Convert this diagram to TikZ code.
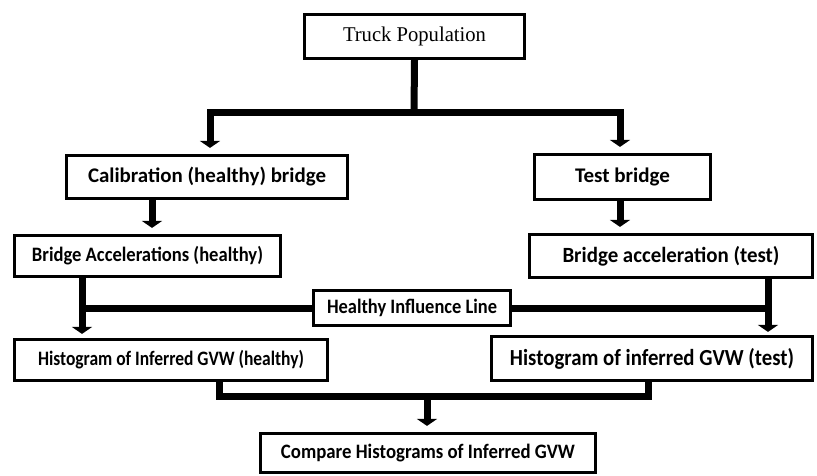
\documentclass[tikz,border=0pt]{standalone}
\usepackage{fontspec}
\usepackage{graphicx}
\setmainfont{Carlito}
\newfontfamily\serifface{Liberation Serif}
\usetikzlibrary{arrows.meta}
\newcommand{\fs}[1]{\fontsize{#1}{#1}\selectfont}
\newcommand{\tw}[2]{\resizebox{#1}{\height}{#2}}
\begin{document}
\begin{tikzpicture}[x=1pt,y=-1pt,
  box/.style={draw, line width=3.2pt, inner sep=0pt, anchor=center, align=center},
  conn/.style={line width=7pt, line join=miter},
  arr/.style={conn, -{Triangle[width=20pt,length=7pt]}}]
\useasboundingbox (0,0) rectangle (817,475);
\fill[white] (0,0) rectangle (817,475);
% boxes
\node[box, minimum width=220pt, minimum height=44pt, font=\serifface\fs{21}] (tp) at (414.5,36.5) {\tw{143pt}{Truck Population}};
\node[box, minimum width=281pt, minimum height=43pt, font=\bfseries\fs{20.8}] (cal) at (207,177) {\tw{238pt}{Calibration (healthy) bridge}};
\node[box, minimum width=176pt, minimum height=45pt, font=\bfseries\fs{20.8}] (test) at (622.5,177) {\tw{95pt}{Test bridge}};
\node[box, minimum width=266pt, minimum height=41pt, font=\bfseries\fs{20.5}] (bah) at (147.5,256) {\tw{231pt}{Bridge Accelerations (healthy)}};
\node[box, minimum width=283pt, minimum height=43pt, font=\bfseries\fs{21.7}] (bat) at (671,256) {\tw{217pt}{Bridge acceleration (test)}};
\node[box, minimum width=197pt, minimum height=35pt, font=\bfseries\fs{20.5}] (hil) at (412,308) {\tw{170pt}{Healthy Influence Line}};
\node[box, minimum width=313pt, minimum height=41pt, font=\bfseries\fs{20.5}] (hh) at (171,360) {\tw{266pt}{Histogram of Inferred GVW (healthy)}};
\node[box, minimum width=321pt, minimum height=44pt, font=\bfseries\fs{23}] (ht) at (652,358.5) {\tw{284pt}{Histogram of inferred GVW (test)}};
\node[box, minimum width=335pt, minimum height=39pt, font=\bfseries\fs{20.5}] (cmp) at (428,453) {\tw{294pt}{Compare Histograms of Inferred GVW}};
% junction coordinates
\coordinate (j1) at (414,112.5);
\coordinate (jl) at (210,112.5);
\coordinate (jr) at (620,112.5);
\coordinate (x1) at (152,0);
\coordinate (xl) at (82,308);
\coordinate (xr) at (768,308);
\coordinate (bl) at (219,396);
\coordinate (br) at (648,396);
\coordinate (bm) at (427,396);
% connectors
\draw[conn] (tp.south) -- (j1);
\draw[arr, shorten >=6pt] (j1) -- (jl) -- (jl |- cal.north);
\draw[arr, shorten >=6pt] (j1) -- (jr) -- (jr |- test.north);
\draw[arr, shorten >=6pt] (cal.south -| x1) -- (bah.north -| x1);
\draw[arr, shorten >=6pt] (test.south -| jr) -- (bat.north -| jr);
\draw[arr, shorten >=4pt] (bah.south -| xl) -- (hh.north -| xl);
\draw[arr, shorten >=3pt] (bat.south -| xr) -- (ht.north -| xr);
\draw[conn] (xl) -- (hil.west);
\draw[conn] (hil.east) -- (xr);
\draw[conn] (hh.south -| bl) -- (bl) -- (br) -- (ht.south -| br);
\draw[arr, shorten >=6pt] (bm) -- (cmp.north -| bm);
\end{tikzpicture}
\end{document}
